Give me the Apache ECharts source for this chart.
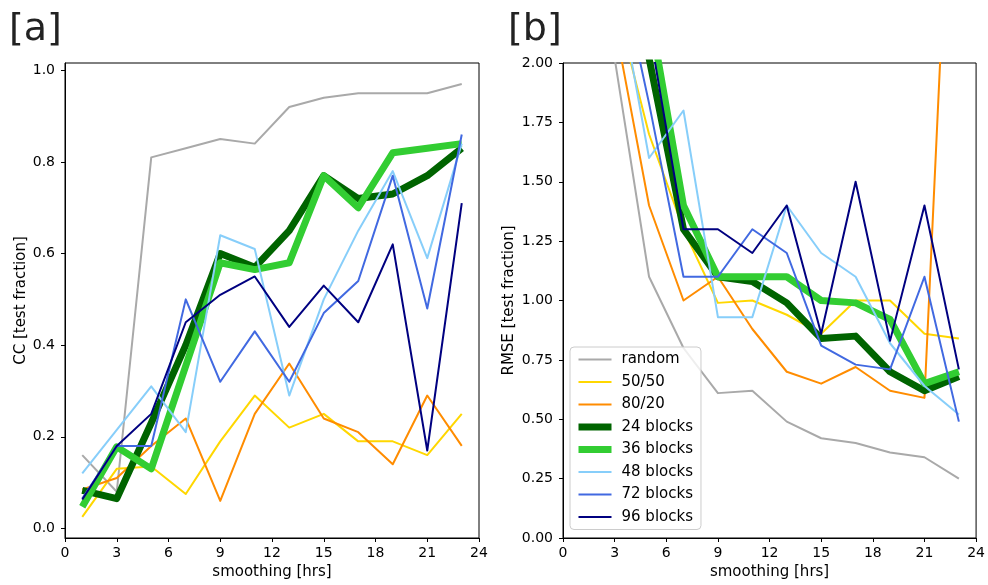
<!DOCTYPE html>
<html>
<head>
<meta charset="utf-8">
<script src="https://cdn.jsdelivr.net/npm/echarts@6/dist/echarts.min.js"></script>
<style>
html,body{margin:0;padding:0;background:#fff;}
#chart{width:988px;height:585px;}
</style>
</head>
<body>
<div id="chart"></div>
<script>
// ---- data ----
const hours = [1, 3, 5, 7, 9, 11, 13, 15, 17, 19, 21, 23];
const seriesNames = ['random', '50/50', '80/20', '24 blocks', '36 blocks', '48 blocks', '72 blocks', '96 blocks'];

// panel [a]: CC [test fraction]
const ccRandom   = [0.16, 0.08, 0.81, 0.83, 0.85, 0.84, 0.92, 0.94, 0.95, 0.95, 0.95, 0.97];
const cc5050     = [0.025, 0.13, 0.135, 0.075, 0.19, 0.29, 0.22, 0.25, 0.19, 0.19, 0.16, 0.25];
const cc8020     = [0.085, 0.11, 0.18, 0.24, 0.06, 0.25, 0.36, 0.24, 0.21, 0.14, 0.29, 0.18];
const cc24       = [0.083, 0.065, 0.23, 0.40, 0.60, 0.57, 0.65, 0.77, 0.72, 0.73, 0.77, 0.83];
const cc36       = [0.047, 0.178, 0.13, 0.355, 0.58, 0.565, 0.58, 0.77, 0.70, 0.82, 0.83, 0.84];
const cc48       = [0.12, 0.215, 0.31, 0.21, 0.64, 0.61, 0.29, 0.50, 0.65, 0.78, 0.59, 0.84];
const cc72       = [0.065, 0.18, 0.18, 0.50, 0.32, 0.43, 0.32, 0.47, 0.54, 0.77, 0.48, 0.86];
const cc96       = [0.063, 0.18, 0.25, 0.45, 0.51, 0.55, 0.44, 0.53, 0.45, 0.62, 0.17, 0.71];

// panel [b]: RMSE [test fraction] (values above 2 are off the plot)
const rmseRandom = [2.6, 2.02, 1.10, 0.80, 0.61, 0.62, 0.49, 0.42, 0.40, 0.36, 0.34, 0.25];
const rmse5050   = [3.0, 2.27, 1.70, 1.30, 0.99, 1.00, 0.94, 0.86, 1.00, 1.00, 0.86, 0.84];
const rmse8020   = [2.9, 2.17, 1.40, 1.00, 1.10, 0.88, 0.70, 0.65, 0.72, 0.62, 0.59, 3.7];
const rmse24     = [3.2, 2.6, 2.02, 1.30, 1.10, 1.08, 0.99, 0.84, 0.85, 0.70, 0.62, 0.68];
const rmse36     = [3.2, 2.7, 2.23, 1.40, 1.10, 1.10, 1.10, 1.00, 0.99, 0.92, 0.65, 0.70];
const rmse48     = [3.0, 2.4, 1.60, 1.80, 0.93, 0.93, 1.40, 1.20, 1.10, 0.82, 0.64, 0.52];
const rmse72     = [3.1, 2.5, 1.83, 1.10, 1.10, 1.30, 1.20, 0.81, 0.73, 0.71, 1.10, 0.49];
const rmse96     = [3.3, 2.7, 2.15, 1.30, 1.30, 1.20, 1.40, 0.86, 1.50, 0.83, 1.40, 0.71];

// tick labels
const xTicks = [0, 3, 6, 9, 12, 15, 18, 21, 24];
const ccTicks = [0.0, 0.2, 0.4, 0.6, 0.8, 1.0];
const rmseTicks = [0.00, 0.25, 0.50, 0.75, 1.00, 1.25, 1.50, 1.75, 2.00];

// ---- styles ----
const colors = ['#a9a9a9', '#ffd700', '#ff8c00', '#006400', '#32cd32', '#87cefa', '#4169e1', '#000080'];
const widths = [2, 2, 2, 7, 7, 2, 2, 2];
const ccData = [ccRandom, cc5050, cc8020, cc24, cc36, cc48, cc72, cc96];
const rmseData = [rmseRandom, rmse5050, rmse8020, rmse24, rmse36, rmse48, rmse72, rmse96];

const FONT = 'DejaVu Sans';

function xAxis(gridIndex) {
  return {
    type: 'value', gridIndex: gridIndex, min: 0, max: 24, interval: 3,
    name: 'smoothing [hrs]', nameLocation: 'middle', nameGap: 24,
    nameTextStyle: {fontFamily: FONT, fontSize: 15, color: '#000'},
    axisLine: {show: true, onZero: false, lineStyle: {color: '#000', width: 1}},
    axisTick: {show: true, inside: false, length: 4, lineStyle: {color: '#000', width: 1},
               customValues: xTicks},
    axisLabel: {fontFamily: FONT, fontSize: 14, color: '#000', margin: 8, customValues: xTicks,
                formatter: v => String(v)},
    splitLine: {show: false}
  };
}

function yAxis(gridIndex, min, max, ticks, name, digits, gap) {
  return {
    type: 'value', gridIndex: gridIndex, min: min, max: max,
    name: name, nameLocation: 'middle', nameGap: gap,
    nameTextStyle: {fontFamily: FONT, fontSize: 15, color: '#000'},
    axisLine: {show: true, onZero: false, lineStyle: {color: '#000', width: 1}},
    axisTick: {show: true, inside: false, length: 4, lineStyle: {color: '#000', width: 1},
               customValues: ticks},
    axisLabel: {fontFamily: FONT, fontSize: 14, color: '#000', margin: 10, customValues: ticks,
                formatter: v => Number(v).toFixed(digits)},
    splitLine: {show: false}
  };
}

const series = [];
seriesNames.forEach((nm, i) => {
  series.push({
    name: nm, type: 'line', xAxisIndex: 0, yAxisIndex: 0,
    data: hours.map((h, k) => [h, ccData[i][k]]),
    symbol: 'none', showSymbol: false, clip: true,
    lineStyle: {color: colors[i], width: widths[i], join: 'round', cap: 'butt'},
    itemStyle: {color: colors[i]},
    emphasis: {disabled: true}
  });
});
seriesNames.forEach((nm, i) => {
  series.push({
    name: nm, type: 'line', xAxisIndex: 1, yAxisIndex: 1,
    data: hours.map((h, k) => [h, rmseData[i][k]]),
    symbol: 'none', showSymbol: false, clip: true,
    lineStyle: {color: colors[i], width: widths[i], join: 'round', cap: 'butt'},
    itemStyle: {color: colors[i]},
    emphasis: {disabled: true}
  });
});

const chart = echarts.init(document.getElementById('chart'), null, {renderer: 'canvas'});
chart.setOption({
  animation: false,
  backgroundColor: '#fff',
  grid: [
    {left: 65, top: 63, width: 414, height: 475, show: true, borderColor: '#000', borderWidth: 1, backgroundColor: 'transparent'},
    {left: 563, top: 63, width: 414, height: 475, show: true, borderColor: '#000', borderWidth: 1, backgroundColor: 'transparent'}
  ],
  xAxis: [xAxis(0), xAxis(1)],
  yAxis: [
    yAxis(0, -0.021, 1.016, ccTicks, 'CC [test fraction]', 1, 36),
    yAxis(1, 0, 2, rmseTicks, 'RMSE [test fraction]', 2, 46)
  ],
  legend: {
    data: seriesNames.map((nm, i) => ({
      name: nm,
      itemStyle: {opacity: 0},
      lineStyle: {color: colors[i], width: widths[i], opacity: 1, cap: 'butt'}
    })),
    orient: 'vertical', left: 570, top: 347,
    itemWidth: 33, itemHeight: 14, itemGap: 7.5,
    padding: [5, 8, 5, 5],
    backgroundColor: 'rgba(255,255,255,0.8)', borderColor: '#cccccc', borderWidth: 1, borderRadius: 4,
    textStyle: {fontFamily: FONT, fontSize: 15, color: '#000', padding: [0, 0, 0, 5]},
    selectedMode: false
  },
  graphic: [
    {type: 'text', left: 9, top: 11, style: {text: '[a]', font: '38px "DejaVu Sans"', fill: '#222'}},
    {type: 'text', left: 508, top: 11, style: {text: '[b]', font: '38px "DejaVu Sans"', fill: '#222'}}
  ],
  series: series
});
</script>
</body>
</html>
